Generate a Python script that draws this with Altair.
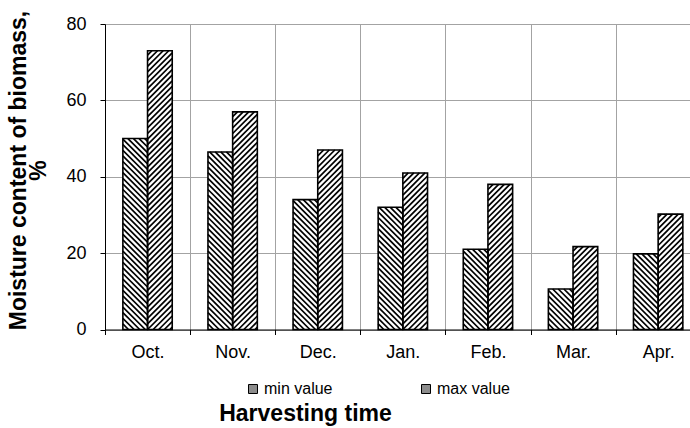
import json

import altair as alt
import pandas as pd

# Moisture content of harvested biomass by month (%)
months = ["Oct.", "Nov.", "Dec.", "Jan.", "Feb.", "Mar.", "Apr."]
min_values = [50.0, 46.5, 34.0, 32.0, 21.0, 10.6, 19.8]
max_values = [73.0, 57.0, 47.0, 41.0, 38.0, 21.7, 30.2]
series_names = ["min value", "max value"]

FONT = "Liberation Sans"

# Layout of the plot area (pixels)
STEP = 85.1                # width of one month slot
PLOT_W = 585               # visible plot width
PLOT_H = 305.5
Y_MAX = 80
X_MAX = PLOT_W / STEP      # x domain in month-slot units
SX = STEP                  # px per x unit
SY = PLOT_H / Y_MAX        # px per percent
GROUP_START = 0.21         # where the bar pair starts inside a slot
BAR_W = 0.29               # width of one bar (slot units)
HATCH_P = 5.6              # vertical period of the hatch lines (px)

rows = []
for i, m in enumerate(months):
    rows.append({"month": m, "idx": i, "series": series_names[0], "side": 0, "value": min_values[i]})
    rows.append({"month": m, "idx": i, "series": series_names[1], "side": 1, "value": max_values[i]})
df = pd.DataFrame(rows)

base = alt.Chart(df).transform_calculate(
    xl=f"datum.idx + {GROUP_START} + datum.side * {BAR_W}",
    xr=f"datum.idx + {GROUP_START} + (datum.side + 1) * {BAR_W}",
)

x_scale = alt.Scale(domain=[0, X_MAX], nice=False, zero=False)
y_scale = alt.Scale(domain=[0, Y_MAX], nice=False)

label_expr = f"{json.dumps(months)}[datum.value] || ''"

x_axis = alt.Axis(
    values=list(range(0, 7)),
    labelExpr=label_expr,
    labelOffset=STEP / 2,
    labelFlush=False,
    labelOverlap=False,
    labelBound=False,
    labelPadding=9,
    title="Harvesting time",
    titleX=200,
    titleY=91,
    titleAlign="center",
    titleBaseline="alphabetic",
)
y_axis = alt.Axis(
    values=[0, 20, 40, 60, 80],
    title=["Moisture content of biomass,", "%"],
    titleAngle=-90,
    titleX=-98,
    titleY=146,
    titleAlign="center",
    titleBaseline="top",
    titleLineHeight=20,
    labelPadding=14,
)

x_enc = alt.X("xl:Q", scale=x_scale, axis=x_axis)
x2_enc = alt.X2("xr:Q")
y_enc = alt.Y("value:Q", scale=y_scale, axis=y_axis)
y2_enc = alt.Y2(datum=0)

# Bottom layer carries the legend; it is hidden under the white bars
legend_bars = base.mark_rect().encode(
    x=x_enc,
    x2=x2_enc,
    y=y_enc,
    y2=y2_enc,
    fill=alt.Fill(
        "series:N",
        scale=alt.Scale(domain=series_names, range=["#8c8c8c", "#8c8c8c"]),
        legend=alt.Legend(
            title=None,
            orient="none",
            direction="horizontal",
            legendX=140,
            legendY=357,
            symbolType="square",
            symbolSize=81,
            symbolStrokeColor="black",
            symbolStrokeWidth=1,
            symbolOffset=0,
            labelOffset=3,
            columnPadding=85,
            labelFontSize=16,
            labelFont=FONT,
            labelColor="black",
            padding=0,
        ),
    ),
)

white_bars = base.mark_rect(fill="white").encode(x=x_enc, x2=x2_enc, y=y_enc, y2=y2_enc)

# Diagonal hatching: "\" lines for the min bars, "/" lines for the max bars
hatch = (
    base.transform_calculate(k="sequence(-10, 80)")
    .transform_flatten(["k"])
    .transform_calculate(
        c=f"datum.k * {HATCH_P}",
        hp=f"datum.value * {SY}",
        wp=f"{BAR_W * SX}",
    )
    .transform_calculate(
        u0="datum.side == 1 ? max(0, -datum.c) : max(0, datum.c - datum.hp)",
        u1="datum.side == 1 ? min(datum.wp, datum.hp - datum.c) : min(datum.wp, datum.c)",
    )
    .transform_filter("datum.u1 > datum.u0")
    .transform_calculate(
        z0="datum.side == 1 ? datum.u0 + datum.c : datum.c - datum.u0",
        z1="datum.side == 1 ? datum.u1 + datum.c : datum.c - datum.u1",
    )
    .transform_calculate(
        hx0=f"datum.xl + datum.u0 / {SX}",
        hx1=f"datum.xl + datum.u1 / {SX}",
        hy0=f"datum.z0 / {SY}",
        hy1=f"datum.z1 / {SY}",
    )
    .mark_rule(color="black", strokeWidth=1.7)
    .encode(
        x=alt.X("hx0:Q", scale=x_scale),
        x2="hx1:Q",
        y=alt.Y("hy0:Q", scale=y_scale),
        y2="hy1:Q",
    )
)

outline = base.mark_rect(filled=False, stroke="black", strokeWidth=1.6).encode(
    x=x_enc, x2=x2_enc, y=y_enc, y2=y2_enc
)

chart = (
    alt.layer(legend_bars, white_bars, hatch, outline)
    .properties(
        width=PLOT_W,
        height=PLOT_H,
        autosize=alt.AutoSizeParams(type="none"),
        padding={"left": 105, "top": 24, "right": 0, "bottom": 98},
        background="white",
    )
    .configure_view(stroke=None)
    .configure_axis(
        labelFont=FONT,
        titleFont=FONT,
        labelFontSize=18,
        labelColor="black",
        titleFontSize=23,
        titleFontWeight="bold",
        titleColor="black",
        domainColor="black",
        domainWidth=1,
        tickColor="black",
        tickSize=5,
        tickWidth=1,
        gridColor="#a3a3a3",
        gridWidth=1,
    )
)

chart.save("out.html", embed_options={"renderer": "svg", "actions": False})
